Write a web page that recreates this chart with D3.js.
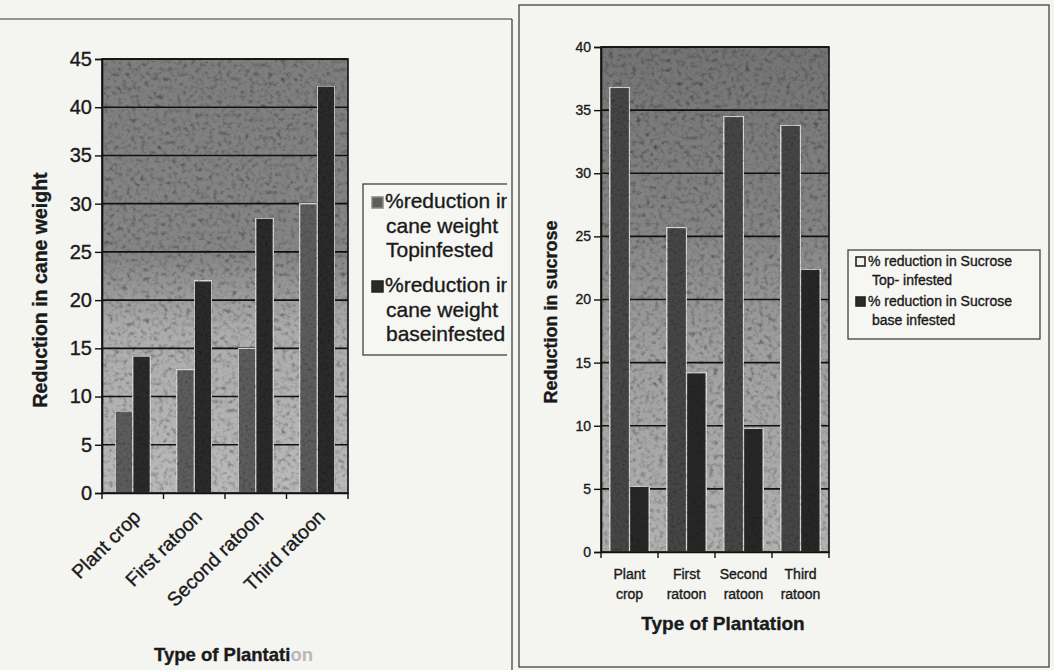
<!DOCTYPE html>
<html><head><meta charset="utf-8">
<script src="https://cdn.jsdelivr.net/npm/d3@7"></script>
<style>
html,body{margin:0;padding:0;background:#f4f4f1;}
text{font-family:Arial,"Liberation Sans",sans-serif;fill:#1a1a1a;stroke:#1a1a1a;stroke-width:0.35px;}
</style></head>
<body><svg id="c" width="1054" height="670"></svg>
<script>
// ---- data ----
const categories = ["Plant crop","First ratoon","Second ratoon","Third ratoon"];
const rightCategoryLines = [["Plant","crop"],["First","ratoon"],["Second","ratoon"],["Third","ratoon"]];
const caneTopInfested  = [8.5, 12.8, 15.0, 30.0];
const caneBaseInfested = [14.2, 22.0, 28.5, 42.2];
const sucroseTopInfested  = [36.8, 25.7, 34.5, 33.8];
const sucroseBaseInfested = [5.2, 14.2, 9.8, 22.4];
const caneTicks = [0,5,10,15,20,25,30,35,40,45];
const sucroseTicks = [0,5,10,15,20,25,30,35,40];
const caneLegend = [["%reduction in","cane weight","Topinfested"],["%reduction in","cane weight","baseinfested"]];
const sucroseLegend = [["% reduction in Sucrose","Top- infested"],["% reduction in Sucrose","base infested"]];

const svg = d3.select("#c");
const defs = svg.append("defs");
// scanned-paper grain filter
function grain(id, seed, slope, intercept, freq){
  const f = defs.append("filter").attr("id",id).attr("x",0).attr("y",0).attr("width","100%").attr("height","100%");
  f.append("feTurbulence").attr("type","fractalNoise").attr("baseFrequency",freq).attr("numOctaves",4).attr("seed",seed).attr("result","n");
  f.append("feColorMatrix").attr("in","n").attr("type","matrix")
   .attr("values","0.33 0.33 0.33 0 0  0.33 0.33 0.33 0 0  0.33 0.33 0.33 0 0  0 0 0 0 1").attr("result","g");
  const ct = f.append("feComponentTransfer").attr("in","g").attr("result","c");
  ["R","G","B"].forEach(ch=>ct.append("feFunc"+ch).attr("type","linear").attr("slope",slope).attr("intercept",intercept));
  f.append("feBlend").attr("in","SourceGraphic").attr("in2","c").attr("mode","multiply");
}
grain("grainBg", 4, 2.2, -0.15, 0.22);
grain("grainBar", 9, 1.6, 0.15, 0.35);

function grad(id, stops){
  const g = defs.append("linearGradient").attr("id",id).attr("x1",0).attr("y1",0).attr("x2",0).attr("y2",1);
  stops.forEach(s=>g.append("stop").attr("offset",s[0]).attr("stop-color",s[1]));
}
grad("bgL", [[0,"#7e7e7e"],[0.45,"#868686"],[0.62,"#acacac"],[1,"#bababa"]]);
grad("bgR", [[0,"#747474"],[0.35,"#848484"],[0.6,"#a0a0a0"],[1,"#b2b2b2"]]);

// ---- panel borders ----
svg.append("line").attr("x1",0).attr("x2",512).attr("y1",19).attr("y2",19).attr("stroke","#333").attr("stroke-width",1.2);
svg.append("line").attr("x1",512).attr("x2",512).attr("y1",19).attr("y2",670).attr("stroke","#333").attr("stroke-width",1.2);
svg.append("rect").attr("x",519).attr("y",5).attr("width",530).attr("height",662).attr("fill","none").attr("stroke","#333").attr("stroke-width",1.2);

function drawChart(o){
  const g = svg.append("g");
  const x = d3.scaleBand().domain(categories).range([o.left,o.right]);
  const xs = d3.scaleBand().domain([0,1]).range([0,x.bandwidth()]).paddingOuter(o.outer);
  const y = d3.scaleLinear().domain([0,o.max]).range([o.bottom,o.top]);
  g.append("rect").attr("x",o.left).attr("y",o.top).attr("width",o.right-o.left).attr("height",o.bottom-o.top)
   .attr("fill",o.bg).attr("filter","url(#grainBg)");
  g.append("g").selectAll("line").data(o.ticks.slice(1)).join("line")
   .attr("x1",o.left).attr("x2",o.right).attr("y1",d=>y(d)).attr("y2",d=>y(d))
   .attr("stroke","#111").attr("stroke-width",1.6);
  const series = [o.topVals, o.baseVals];
  const fills = [o.topFill, o.baseFill];
  series.forEach((vals,si)=>{
    g.append("g").selectAll("rect").data(vals).join("rect")
     .attr("x",(d,i)=>x(categories[i])+xs(si))
     .attr("y",d=>y(d)).attr("width",xs.bandwidth()).attr("height",d=>y(0)-y(d))
     .attr("fill",fills[si]).attr("stroke","#d6d6d2").attr("stroke-width",1.3)
     .attr("filter","url(#grainBar)");
  });
  g.append("rect").attr("x",o.left).attr("y",o.top).attr("width",o.right-o.left).attr("height",o.bottom-o.top)
   .attr("fill","none").attr("stroke","#111").attr("stroke-width",1.6);
  const ya = g.append("g").attr("transform",`translate(${o.left},0)`)
    .call(d3.axisLeft(y).tickValues(o.ticks).tickSize(7).tickPadding(3));
  ya.attr("font-family",null);
  ya.select(".domain").attr("stroke","#111").attr("stroke-width",1.6);
  ya.selectAll(".tick line").attr("stroke","#111").attr("stroke-width",1.4);
  ya.selectAll("text").style("font-size",o.tickFont+"px").attr("fill","#1a1a1a");
  const xa = g.append("g").attr("transform",`translate(0,${o.bottom})`)
    .call(d3.axisBottom(x).tickValues([]).tickSizeOuter(0));
  xa.select(".domain").attr("stroke","#111").attr("stroke-width",1.6);
  // category boundary ticks
  g.append("g").selectAll("line").data(d3.range(categories.length+1)).join("line")
   .attr("x1",i=>o.left+i*x.step()).attr("x2",i=>o.left+i*x.step())
   .attr("y1",o.bottom).attr("y2",o.bottom+6).attr("stroke","#111").attr("stroke-width",1.4);
  return {x,y,g};
}

// ---- left chart ----
const L = drawChart({left:102,right:348,top:59,bottom:493,max:45,ticks:caneTicks,outer:0.75,
  topVals:caneTopInfested,baseVals:caneBaseInfested,bg:"url(#bgL)",topFill:"#5c5c5c",baseFill:"#2a2a2a",tickFont:20});
L.g.append("g").selectAll("text").data(categories).join("text")
  .attr("transform",d=>`translate(${L.x(d)+L.x.bandwidth()/2+9},${518}) rotate(-45)`)
  .attr("text-anchor","end").style("font-size","19.5px").text(d=>d);
svg.append("text").attr("transform","translate(47,290) rotate(-90)").attr("text-anchor","middle")
  .style("font-size","19.5px").style("font-weight","bold").text("Reduction in cane weight");
const lt = svg.append("text").attr("x",154).attr("y",661).style("font-size","18.5px").style("font-weight","bold");
lt.append("tspan").text("Type of Plantati");
lt.append("tspan").style("fill","#b8b8b8").style("stroke","none").text("on");

// left legend
defs.append("clipPath").attr("id","legClip").append("rect").attr("x",360).attr("y",170).attr("width",147).attr("height",200);
const lg = svg.append("g").attr("clip-path","url(#legClip)");
lg.append("rect").attr("x",363).attr("y",184).attr("width",150).attr("height",171).attr("fill","#f6f6f3").attr("stroke","#333").attr("stroke-width",1.2);
const legFills = ["#5c5c5c","#2a2a2a"];
caneLegend.forEach((lines,k)=>{
  const by = 208 + k*84;
  lg.append("rect").attr("x",372).attr("y",by-11).attr("width",11).attr("height",11)
    .attr("fill",legFills[k]).attr("stroke",k?"#222":"#888").attr("stroke-width",1.5);
  lines.forEach((t,j)=>{
    lg.append("text").attr("x",j?386:385).attr("y",by+j*24.5).style("font-size","21px").text(t);
  });
});

// ---- right chart ----
const R = drawChart({left:601,right:829,top:47,bottom:552,max:40,ticks:sucroseTicks,outer:0.45,
  topVals:sucroseTopInfested,baseVals:sucroseBaseInfested,bg:"url(#bgR)",topFill:"#454545",baseFill:"#282828",tickFont:14});
rightCategoryLines.forEach((lines,i)=>{
  lines.forEach((t,j)=>{
    svg.append("text").attr("x",R.x(categories[i])+R.x.bandwidth()/2).attr("y",579+j*20)
      .attr("text-anchor","middle").style("font-size","14px").text(t);
  });
});
svg.append("text").attr("x",723).attr("y",630).attr("text-anchor","middle")
  .style("font-size","19px").style("font-weight","bold").text("Type of Plantation");
svg.append("text").attr("transform","translate(557,312) rotate(-90)").attr("text-anchor","middle")
  .style("font-size","18px").style("font-weight","bold").text("Reduction in sucrose");

// right legend
const rg = svg.append("g");
rg.append("rect").attr("x",848).attr("y",250).attr("width",192).attr("height",89).attr("fill","#f6f6f3").attr("stroke","#333").attr("stroke-width",1.2);
const rFills = ["#f0f0f0","#2a2a2a"];
sucroseLegend.forEach((lines,k)=>{
  const by = 266 + k*40;
  rg.append("rect").attr("x",856).attr("y",by-9).attr("width",9).attr("height",9)
    .attr("fill",rFills[k]).attr("stroke","#222").attr("stroke-width",1.6);
  lines.forEach((t,j)=>{
    rg.append("text").attr("x",j?872:868).attr("y",by+j*19).style("font-size","14px").text(t);
  });
});
</script></body></html>
